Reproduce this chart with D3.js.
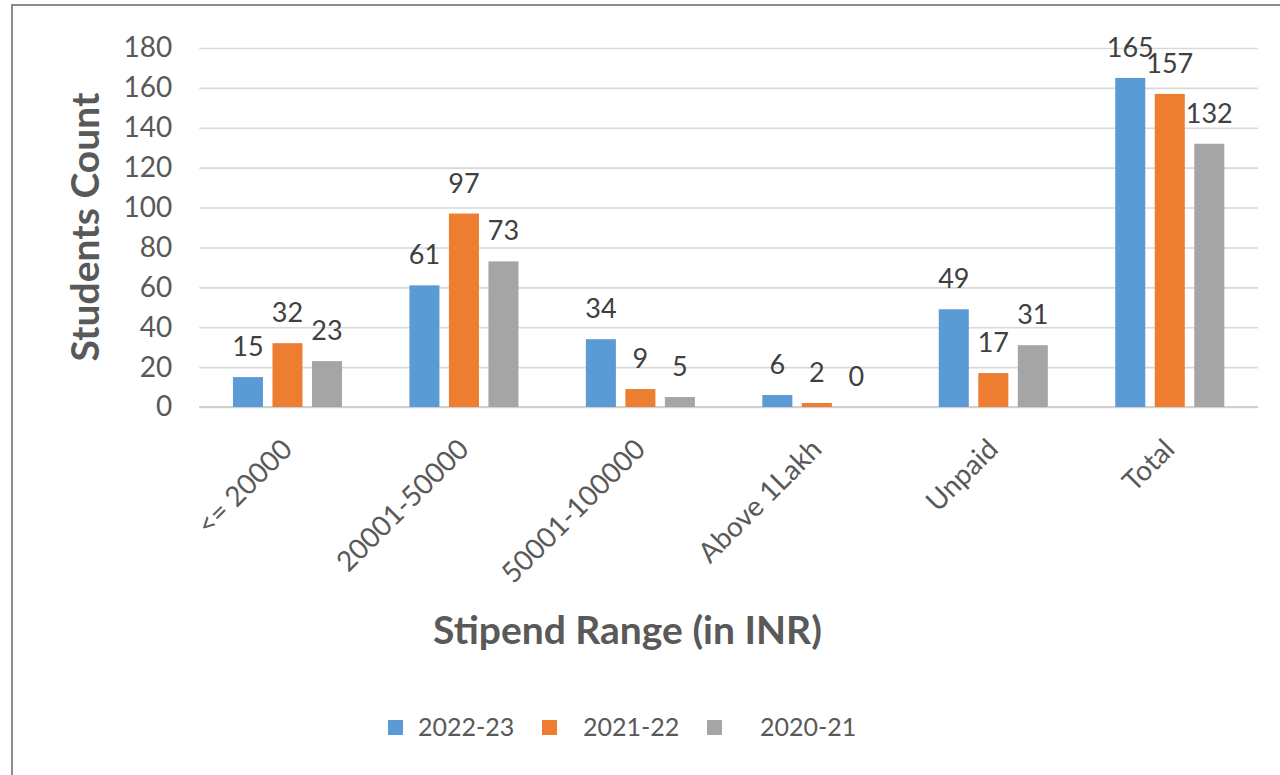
<!DOCTYPE html>
<html>
<head>
<meta charset="utf-8">
<script src="https://cdn.jsdelivr.net/npm/d3@7"></script>
<style>
  html, body { margin: 0; padding: 0; background: #ffffff; }
  svg { display: block; font-family: Lato, "Open Sans", sans-serif; }
</style>
</head>
<body>
<svg id="chart" width="1280" height="775"></svg>
<script>
// Stipend ranges and student counts per academic year
const categories = ["<= 20000", "20001-50000", "50001-100000", "Above 1Lakh", "Unpaid", "Total"];
const seriesNames = ["2022-23", "2021-22", "2020-21"];
const counts2022_23 = [15, 61, 34, 6, 49, 165];
const counts2021_22 = [32, 97, 9, 2, 17, 157];
const counts2020_21 = [23, 73, 5, 0, 31, 132];
const yTickValues = [0, 20, 40, 60, 80, 100, 120, 140, 160, 180];
const seriesColors = ["#5B9BD5", "#ED7D31", "#A5A5A5"];

const seriesValues = [counts2022_23, counts2021_22, counts2020_21];
const rows = categories.map((c, i) => ({
  category: c,
  values: seriesNames.map((s, j) => ({ series: s, value: seriesValues[j][i] }))
}));

const svg = d3.select("#chart");
const W = 1280, H = 775;
const plot = { left: 199.25, right: 1258, top: 48, bottom: 407 };

// outer frame
svg.append("rect")
  .attr("x", 12).attr("y", 5)
  .attr("width", W).attr("height", H)
  .attr("fill", "#ffffff")
  .attr("stroke", "#8c8c8c").attr("stroke-width", 2);

const x0 = d3.scaleBand()
  .domain(categories)
  .range([plot.left, plot.right])
  .paddingInner(0.382)
  .paddingOuter(0.191);

const x1 = d3.scaleBand()
  .domain(seriesNames)
  .range([0, x0.bandwidth()])
  .paddingInner(0.24)
  .paddingOuter(0);

const y = d3.scaleLinear().domain([0, 180]).range([plot.bottom, plot.top]);
const color = d3.scaleOrdinal().domain(seriesNames).range(seriesColors);

// horizontal gridlines and y tick labels
const yAxis = d3.axisLeft(y)
  .tickValues(yTickValues)
  .tickSize(-(plot.right - plot.left))
  .tickPadding(27);

const gy = svg.append("g")
  .attr("transform", `translate(${plot.left},0)`)
  .call(yAxis);
gy.select(".domain").remove();
gy.selectAll(".tick line")
  .attr("stroke", "#d9d9d9")
  .attr("stroke-width", 1.6);
gy.selectAll(".tick text")
  .attr("fill", "#595959")
  .style("font-size", "28px")
  .style("font-family", "Lato, 'Open Sans', sans-serif");

// baseline
svg.append("line")
  .attr("x1", plot.left).attr("x2", plot.right)
  .attr("y1", y(0)).attr("y2", y(0))
  .attr("stroke", "#d0d0d0").attr("stroke-width", 2);

// bars
const groups = svg.append("g").selectAll("g")
  .data(rows)
  .join("g")
  .attr("transform", d => `translate(${x0(d.category)},0)`);

groups.selectAll("rect")
  .data(d => d.values)
  .join("rect")
  .attr("x", d => x1(d.series))
  .attr("width", x1.bandwidth())
  .attr("y", d => y(d.value))
  .attr("height", d => y(0) - y(d.value))
  .attr("fill", d => color(d.series));

// value labels above bars
groups.selectAll("text")
  .data(d => d.values)
  .join("text")
  .attr("x", d => x1(d.series) + x1.bandwidth() / 2)
  .attr("y", d => y(d.value) - 21)
  .attr("text-anchor", "middle")
  .attr("fill", "#404040")
  .style("font-size", "27px")
  .text(d => d.value);

// rotated category labels
svg.append("g").selectAll("text")
  .data(categories)
  .join("text")
  .attr("transform", d => `translate(${x0(d) + x0.bandwidth() / 2 + 6.5},451) rotate(-45)`)
  .attr("text-anchor", "end")
  .attr("fill", "#595959")
  .style("font-size", "28px")
  .text(d => d);

// axis titles
svg.append("text")
  .attr("transform", "translate(99,227) rotate(-90)")
  .attr("text-anchor", "middle")
  .attr("fill", "#595959")
  .style("font-size", "39px")
  .style("font-weight", "bold")
  .text("Students Count");

svg.append("text")
  .attr("x", 627.5).attr("y", 644)
  .attr("text-anchor", "middle")
  .attr("fill", "#595959")
  .style("font-size", "39px")
  .style("font-weight", "bold")
  .text("Stipend Range (in INR)");

// legend
const legendPos = [
  { sq: 388, tx: 418 },
  { sq: 542, tx: 583 },
  { sq: 707, tx: 760 }
];
const legend = svg.append("g").selectAll("g")
  .data(seriesNames)
  .join("g");
legend.append("rect")
  .attr("x", (d, i) => legendPos[i].sq)
  .attr("y", 720)
  .attr("width", 15).attr("height", 15)
  .attr("fill", d => color(d));
legend.append("text")
  .attr("x", (d, i) => legendPos[i].tx)
  .attr("y", 736)
  .attr("fill", "#595959")
  .style("font-size", "25px")
  .text(d => d);
</script>
</body>
</html>
